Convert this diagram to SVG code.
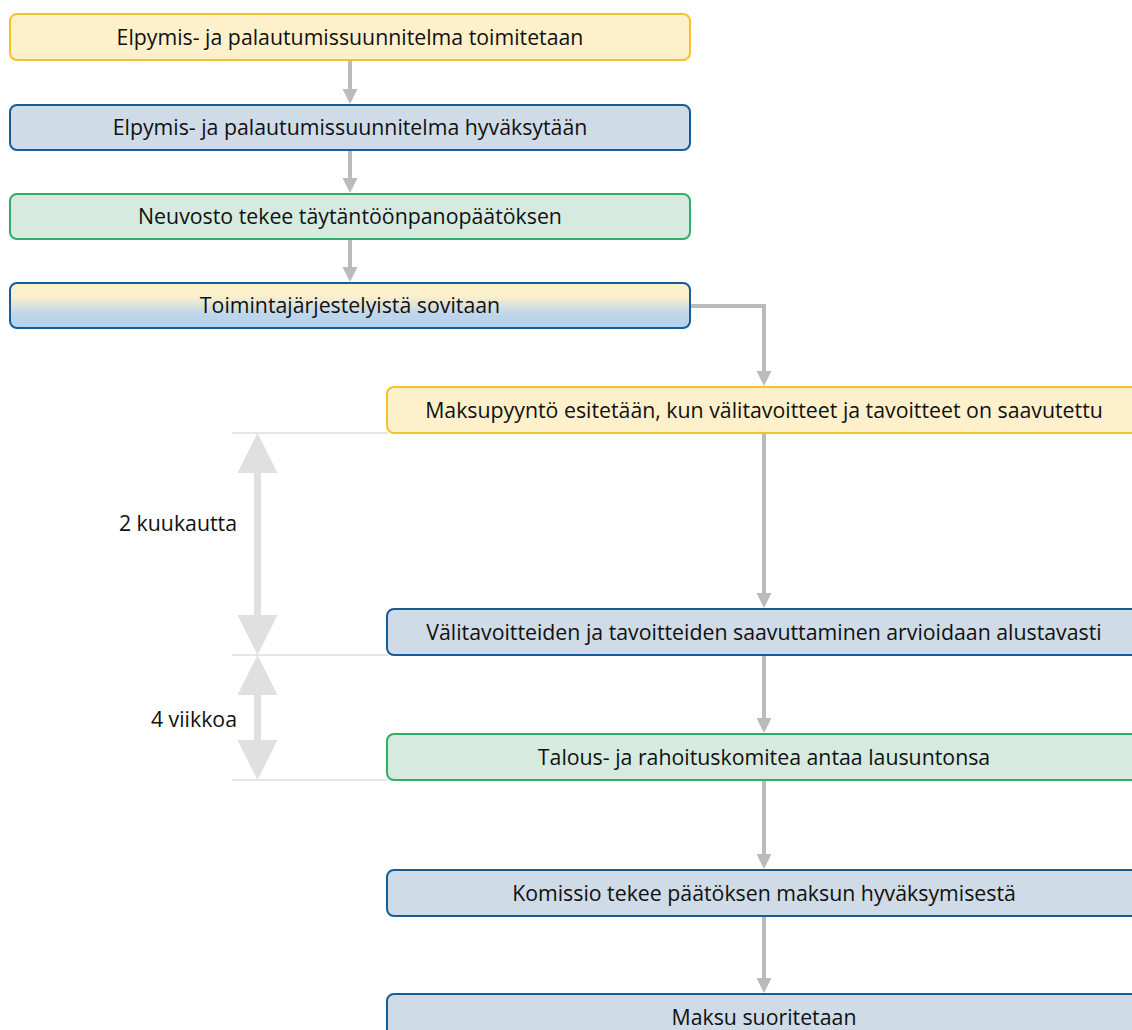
<svg xmlns="http://www.w3.org/2000/svg" width="1132" height="1030" viewBox="0 0 1132 1030">
<style>
.box{stroke-width:2}
.y{fill:#fdf0cb;stroke:#f8c12c}
.b{fill:#cfdbe6;stroke:#165c98}
.g{fill:#d6eadf;stroke:#2fae68}
.t{font-family:"Open Sans",sans-serif;font-size:21.3px;fill:#111;text-anchor:middle}
.lbl{font-family:"Open Sans",sans-serif;font-size:21.3px;fill:#111;text-anchor:end}
.c{stroke:#bbbbbb;stroke-width:4;fill:none}
.ah{fill:#bbbbbb}
.guide{stroke:#cccccc;stroke-width:1}
.span{fill:#e0e0e0}
</style>
<defs>
<linearGradient id="grad" x1="0" y1="0" x2="0" y2="1">
<stop offset="0" stop-color="#fdf0cb"/>
<stop offset="0.3" stop-color="#fcefcc"/>
<stop offset="0.68" stop-color="#bfd6eb"/>
<stop offset="1" stop-color="#b4d1ee"/>
</linearGradient>
</defs>
<rect width="1132" height="1030" fill="#ffffff"/>
<g id="guides">
<line class="guide" x1="232" y1="433" x2="388" y2="433"/>
<line class="guide" x1="232" y1="655" x2="388" y2="655"/>
<line class="guide" x1="232" y1="780" x2="388" y2="780"/>
</g>
<g id="timespans">
<rect class="span" x="254" y="470" width="7" height="148"/>
<polygon class="span" points="257.5,433 237.5,473 277.5,473"/>
<polygon class="span" points="257.5,655 237.5,615 277.5,615"/>
<rect class="span" x="254" y="692" width="7" height="52"/>
<polygon class="span" points="257.5,655 237.5,695 277.5,695"/>
<polygon class="span" points="257.5,780 237.5,740 277.5,740"/>
<text class="lbl" x="237" y="531">2 kuukautta</text>
<text class="lbl" x="237" y="727">4 viikkoa</text>
</g>
<g id="connectors">
<line class="c" x1="350" y1="61" x2="350" y2="92"/>
<polygon class="ah" points="342.5,89 357.5,89 350,104"/>
<line class="c" x1="350" y1="151" x2="350" y2="181"/>
<polygon class="ah" points="342.5,178 357.5,178 350,193"/>
<line class="c" x1="350" y1="240" x2="350" y2="270"/>
<polygon class="ah" points="342.5,267 357.5,267 350,282"/>
<polyline class="c" points="691,306 764,306 764,374"/>
<polygon class="ah" points="756.5,371 771.5,371 764,386"/>
<line class="c" x1="764" y1="434" x2="764" y2="596"/>
<polygon class="ah" points="756.5,593 771.5,593 764,608"/>
<line class="c" x1="764" y1="656" x2="764" y2="721"/>
<polygon class="ah" points="756.5,718 771.5,718 764,733"/>
<line class="c" x1="764" y1="781" x2="764" y2="857"/>
<polygon class="ah" points="756.5,854 771.5,854 764,869"/>
<line class="c" x1="764" y1="917" x2="764" y2="981"/>
<polygon class="ah" points="756.5,978 771.5,978 764,993"/>
</g>
<g id="n1"><rect class="box y" x="10" y="14" width="680" height="46" rx="7"/><text class="t" x="350" y="45">Elpymis- ja palautumissuunnitelma toimitetaan</text></g>
<g id="n2"><rect class="box b" x="10" y="105" width="680" height="45" rx="7"/><text class="t" x="350" y="135">Elpymis- ja palautumissuunnitelma hyväksytään</text></g>
<g id="n3"><rect class="box g" x="10" y="194" width="680" height="45" rx="7"/><text class="t" x="350" y="224">Neuvosto tekee täytäntöönpanopäätöksen</text></g>
<g id="n4"><rect class="box" fill="url(#grad)" stroke="#165c98" x="10" y="283" width="680" height="45" rx="7"/><text class="t" x="350" y="313">Toimintajärjestelyistä sovitaan</text></g>
<g id="n5"><rect class="box y" x="387" y="387" width="760" height="46" rx="7"/><text class="t" x="764" y="418">Maksupyyntö esitetään, kun välitavoitteet ja tavoitteet on saavutettu</text></g>
<g id="n6"><rect class="box b" x="387" y="609" width="760" height="46" rx="7"/><text class="t" x="764" y="640">Välitavoitteiden ja tavoitteiden saavuttaminen arvioidaan alustavasti</text></g>
<g id="n7"><rect class="box g" x="387" y="734" width="760" height="46" rx="7"/><text class="t" x="764" y="765">Talous- ja rahoituskomitea antaa lausuntonsa</text></g>
<g id="n8"><rect class="box b" x="387" y="870" width="760" height="46" rx="7"/><text class="t" x="764" y="901">Komissio tekee päätöksen maksun hyväksymisestä</text></g>
<g id="n9"><rect class="box b" x="387" y="994" width="760" height="46" rx="7"/><text class="t" x="764" y="1025">Maksu suoritetaan</text></g>
</svg>
